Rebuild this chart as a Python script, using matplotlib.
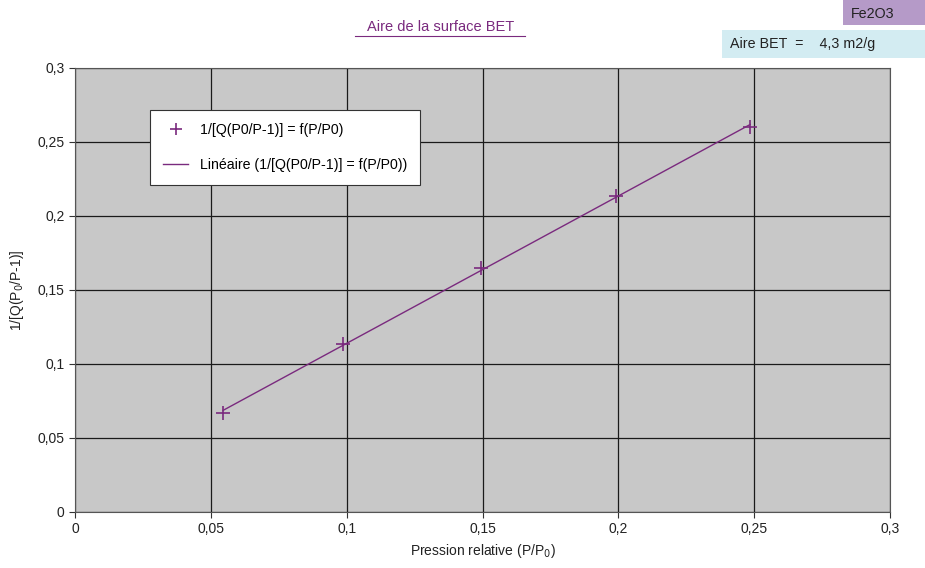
import matplotlib
matplotlib.use("Agg")
import matplotlib.pyplot as plt
import numpy as np
from matplotlib.ticker import FuncFormatter, MultipleLocator

plt.rcParams['font.family'] = ['Liberation Sans', 'DejaVu Sans']

# data
p_rel = [0.0545, 0.0987, 0.1494, 0.1991, 0.2485]
bet_y = [0.0669, 0.1135, 0.1649, 0.2135, 0.2601]

purple = '#7a2a7e'

fig = plt.figure(figsize=(9.25, 5.68), dpi=100)
ax = fig.add_axes([0.0811, 0.0986, 0.8811, 0.7817])
ax.set_facecolor('#c8c8c8')

# linear trend line
slope, intercept = np.polyfit(p_rel, bet_y, 1)
xf = np.array([p_rel[0], p_rel[-1]])
ax.plot(xf, slope * xf + intercept, color=purple, lw=1,
        label='Linéaire (1/[Q(P0/P-1)] = f(P/P0))')
ax.plot(p_rel, bet_y, '+', color=purple, ms=10, mew=1.2, ls='none',
        label='1/[Q(P0/P-1)] = f(P/P0)')

ax.set_xlim(0, 0.3)
ax.set_ylim(0, 0.3)
ax.xaxis.set_major_locator(MultipleLocator(0.05))
ax.yaxis.set_major_locator(MultipleLocator(0.05))
fmt = FuncFormatter(lambda v, pos: ('%g' % round(v, 3)).replace('.', ','))
ax.xaxis.set_major_formatter(fmt)
ax.yaxis.set_major_formatter(fmt)
ax.grid(True, color='#1a1a1a', lw=0.9)
ax.set_axisbelow(True)
ax.tick_params(labelsize=10, direction='out', length=4, color='#333333', labelcolor='#222222')
for s in ax.spines.values():
    s.set_color('#555555')

ax.set_xlabel('Pression relative (P/P$_0$)', fontsize=10, color='#222222', labelpad=4)
ax.set_ylabel('1/[Q(P$_0$/P-1)]', fontsize=10, color='#222222', labelpad=8)

handles, labels = ax.get_legend_handles_labels()
leg = ax.legend(handles[::-1], labels[::-1], loc='upper left', bbox_to_anchor=(0.0835, 0.921),
                fontsize=10.2, frameon=True, fancybox=False, framealpha=1,
                edgecolor='#333333', labelspacing=1.5, borderpad=0.9, handlelength=1.8,
                markerscale=0.8)
leg.get_frame().set_linewidth(0.8)

fig.text(0.476, 0.952, 'Aire de la surface BET', ha='center', va='center',
         fontsize=10.5, color=purple)
# underline title
fig.add_artist(plt.Line2D([0.384, 0.568], [0.936, 0.936], color=purple, lw=0.8))

fig.patches.append(plt.Rectangle((0.911, 0.956), 0.089, 0.044, transform=fig.transFigure,
                                 facecolor='#b59ac8', edgecolor='none', figure=fig))
fig.text(0.920, 0.976, 'Fe2O3', fontsize=10.3, color='#222222', va='center')
fig.patches.append(plt.Rectangle((0.781, 0.898), 0.219, 0.049, transform=fig.transFigure,
                                 facecolor='#d3ecf2', edgecolor='none', figure=fig))
fig.text(0.789, 0.922, 'Aire BET  =    4,3 m2/g', fontsize=10.3, color='#222222', va='center')

fig.savefig('out.png', dpi=100)
